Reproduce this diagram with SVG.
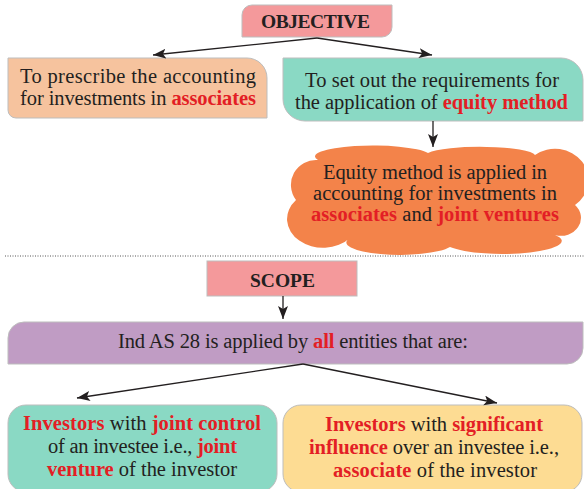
<svg xmlns="http://www.w3.org/2000/svg" width="584" height="489" viewBox="0 0 584 489">
<defs>
<marker id="ah" markerUnits="userSpaceOnUse" markerWidth="14" markerHeight="12" refX="13" refY="5" orient="auto">
<path d="M0,0 L13,5 L0,10 L3,5 Z" fill="#231F20"/>
</marker>
<style>
text{font-family:"Liberation Serif","Times New Roman",serif;fill:#231F20;}
.b{font-weight:bold;}
.r{fill:#E31E25;font-weight:bold;}
.box{stroke:#BDBDBD;stroke-width:1;}
.conn{stroke:#231F20;stroke-width:1.3;fill:none;marker-end:url(#ah);}
.t{font-size:20.5px;}
.h{font-size:19.5px;font-weight:bold;}
</style>
</defs>
<rect width="584" height="489" fill="#FFFFFF"/>

<g id="objective">
<path class="box" d="M252,5 H392 V27 A10 10 0 0 1 382 37 H242 V15 A10 10 0 0 1 252 5 Z" fill="#F4999B"/>
<text class="h" x="261" y="28" textLength="109">OBJECTIVE</text>
</g>

<g id="prescribe">
<path class="box" d="M8,58 H247 A20 20 0 0 1 267 78 V118 H16 A8 8 0 0 1 8 110 Z" fill="#F6C39E"/>
<text class="t" x="20" y="83" textLength="236">To prescribe the accounting</text>
<text class="t" x="20" y="105" textLength="236">for investments in <tspan class="r">associates</tspan></text>
</g>

<g id="requirements">
<path class="box" d="M283,58 H561 A22 22 0 0 1 583 80 V121 H305 A22 22 0 0 1 283 99 Z" fill="#8AD9C4"/>
<text class="t" x="305" y="87" textLength="254">To set out the requirements for</text>
<text class="t" x="295" y="109" textLength="273">the application of <tspan class="r">equity method</tspan></text>
</g>

<g id="equity-cloud">
<path d="M296,200 A25 25 0 0 1 318,160 A58 11 0 0 1 428,153 A55 9 0 0 1 535,155 A30 28 0 0 1 575,205 A20 18 0 0 1 555,235 A55 12 0 0 1 450,247 A52 12 0 0 1 350,238 A30 24 0 0 1 296,200 Z" fill="#F3834A"/>
<text class="t" x="323" y="179" textLength="224">Equity method is applied in</text>
<text class="t" x="313" y="200" textLength="244">accounting for investments in</text>
<text class="t" x="311" y="221" textLength="248"><tspan class="r">associates</tspan> and <tspan class="r">joint ventures</tspan></text>
</g>

<line x1="5" y1="256" x2="584" y2="256" stroke="#555555" stroke-width="1" stroke-dasharray="1,1.5"/>

<g id="scope">
<rect class="box" x="207" y="261" width="150" height="35" fill="#F4999B"/>
<text class="h" x="250" y="287" textLength="65">SCOPE</text>
</g>

<g id="applied">
<path class="box" d="M24,322 H583 V348 A16 16 0 0 1 567 364 H8 V338 A16 16 0 0 1 24 322 Z" fill="#C09CC4"/>
<text class="t" x="118" y="348" textLength="350">Ind AS 28 is applied by <tspan class="r">all</tspan> entities that are:</text>
</g>

<g id="joint-control">
<rect class="box" x="8" y="405" width="269" height="87" rx="18" fill="#8AD9C4"/>
<text class="t" x="23" y="430" textLength="238"><tspan class="r">Investors</tspan> with <tspan class="r">joint control</tspan></text>
<text class="t" x="48" y="453" textLength="189">of an investee i.e., <tspan class="r">joint</tspan></text>
<text class="t" x="47" y="476" textLength="190"><tspan class="r">venture</tspan> of the investor</text>
</g>

<g id="significant-influence">
<rect class="box" x="283" y="405" width="299" height="87" rx="18" fill="#FDDC93"/>
<text class="t" x="325" y="431" textLength="218"><tspan class="r">Investors</tspan> with <tspan class="r">significant</tspan></text>
<text class="t" x="309" y="454" textLength="250"><tspan class="r">influence</tspan> over an investee i.e.,</text>
<text class="t" x="333" y="477" textLength="204"><tspan class="r">associate</tspan> of the investor</text>
</g>

<g id="connectors">
<line class="conn" x1="317" y1="38" x2="153" y2="55"/>
<line class="conn" x1="317" y1="38" x2="432" y2="55"/>
<line class="conn" x1="433" y1="121" x2="433" y2="147"/>
<line class="conn" x1="283" y1="296" x2="283" y2="319"/>
<line class="conn" x1="303" y1="364" x2="77" y2="398"/>
<line class="conn" x1="303" y1="364" x2="497" y2="403"/>
</g>
</svg>
